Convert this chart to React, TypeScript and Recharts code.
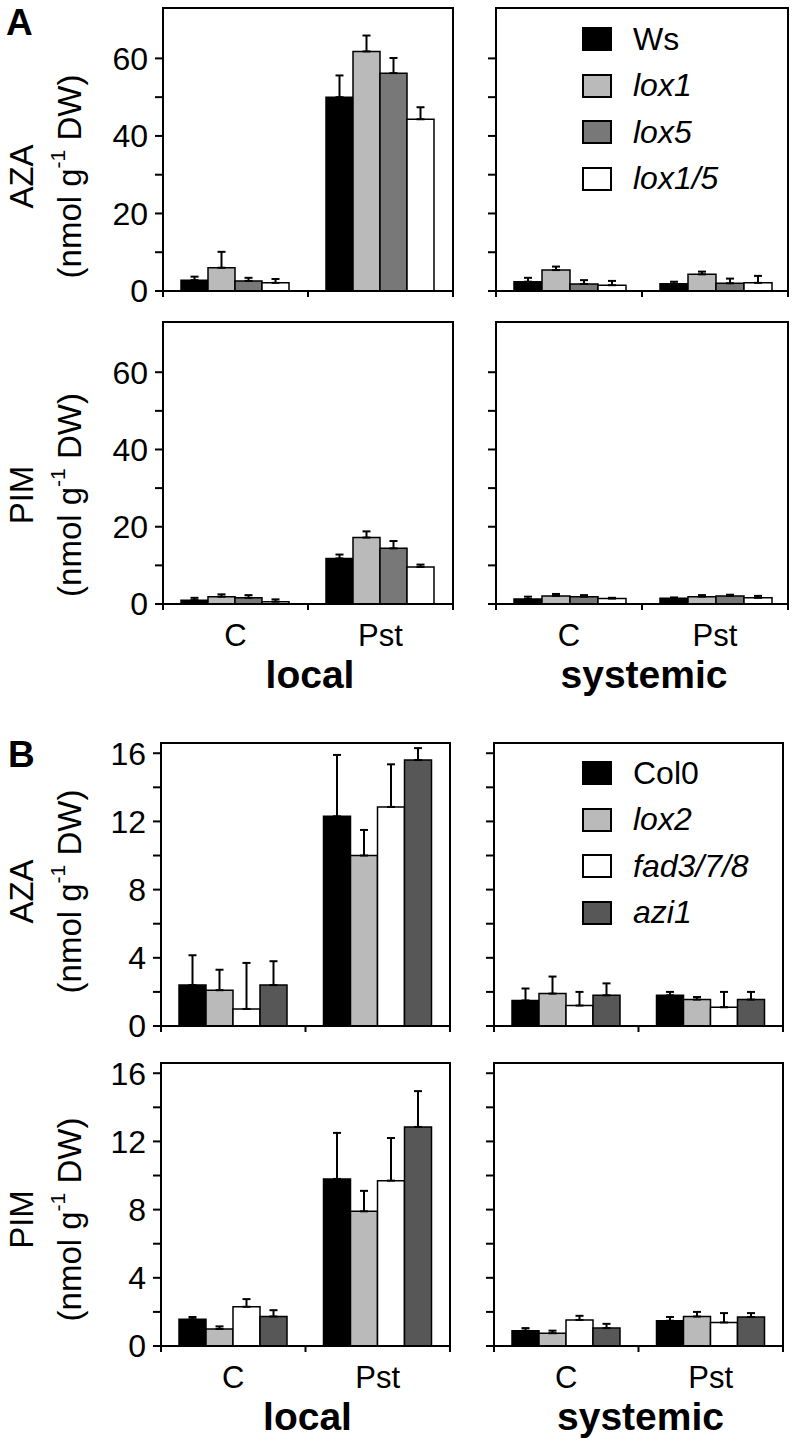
import { Bar, BarChart, ErrorBar, Legend, ReferenceArea, XAxis, YAxis } from "recharts"

const groups = ["C", "Pst"]

const linesA = ["Ws", "lox1", "lox5", "lox1/5"]
const fillsA = ["#000000", "#bababa", "#787878", "#ffffff"]
const linesB = ["Col0", "lox2", "fad3/7/8", "azi1"]
const fillsB = ["#000000", "#bababa", "#ffffff", "#575757"]
const wildTypes = ["Ws", "Col0"]

// rows: C, Pst; columns in line order
const azaLocalA = [[2.8, 6.0, 2.6, 2.1], [50.0, 61.8, 56.2, 44.3]]
const azaLocalErrA = [[0.9, 4.1, 0.8, 1.0], [5.6, 4.1, 3.9, 3.1]]
const azaSysA = [[2.4, 5.4, 1.8, 1.5], [1.9, 4.3, 2.0, 2.1]]
const azaSysErrA = [[1.0, 0.9, 1.0, 1.1], [0.5, 0.7, 1.2, 1.8]]
const pimLocalA = [[1.0, 1.9, 1.6, 0.6], [11.8, 17.2, 14.4, 9.6]]
const pimLocalErrA = [[0.6, 0.6, 0.7, 0.6], [1.0, 1.6, 1.9, 0.6]]
const pimSysA = [[1.3, 2.1, 1.9, 1.4], [1.5, 1.9, 2.1, 1.6]]
const pimSysErrA = [[0.6, 0.5, 0.4, 0.2], [0.2, 0.4, 0.3, 0.5]]

const azaLocalB = [[2.4, 2.1, 1.0, 2.4], [12.3, 10.0, 12.85, 15.6]]
const azaLocalErrB = [[1.75, 1.2, 2.7, 1.4], [3.6, 1.5, 2.5, 0.7]]
const azaSysB = [[1.5, 1.9, 1.2, 1.8], [1.8, 1.55, 1.1, 1.55]]
const azaSysErrB = [[0.7, 1.0, 0.8, 0.7], [0.2, 0.15, 0.9, 0.45]]
const pimLocalB = [[1.57, 1.0, 2.3, 1.73], [9.8, 7.9, 9.7, 12.85]]
const pimLocalErrB = [[0.13, 0.15, 0.45, 0.37], [2.7, 1.2, 2.5, 2.1]]
const pimSysB = [[0.9, 0.75, 1.53, 1.05], [1.48, 1.73, 1.38, 1.7]]
const pimSysErrB = [[0.15, 0.15, 0.24, 0.25], [0.22, 0.27, 0.55, 0.23]]

const ticksA = [0, 10, 20, 30, 40, 50, 60]
const ticksB = [0, 2, 4, 6, 8, 10, 12, 14, 16]

const FONT = '"Liberation Sans", Arial, sans-serif'
const MT = 16

function buildRows(means: number[][], errs: number[][]) {
  return groups.map((g, i) => {
    const row: Record<string, any> = { group: g }
    means[i].forEach((v, j) => {
      row[`s${j}`] = v
      row[`e${j}`] = [0, errs[i][j]]
    })
    return row
  })
}

type PanelProps = {
  left: number
  top: number
  w: number
  h: number
  lines: string[]
  fills: string[]
  means: number[][]
  errs: number[][]
  max: number
  ticks: number[]
  labelStep: number
  side: "left" | "right"
  yTitle?: string
  yShift?: number
  xTitle?: string
  legend?: { left: number; top: number }
}

function Panel(p: PanelProps) {
  const yW = p.side === "left" ? p.left : 30
  const xH = p.xTitle ? 100 : 22
  const width = yW + p.w + 4
  const height = MT + p.h + xH
  const band = p.w / groups.length
  const data = buildRows(p.means, p.errs)

  const xTick = (t: any) => {
    const last = t.index === groups.length - 1
    return (
      <g>
        <line x1={t.x - band / 2} x2={t.x - band / 2} y1={t.y} y2={t.y + 6} stroke="#000" strokeWidth={2} />
        {last && <line x1={t.x + band / 2} x2={t.x + band / 2} y1={t.y} y2={t.y + 6} stroke="#000" strokeWidth={2} />}
        {p.xTitle && (
          <text x={t.x} y={t.y + 20} dy="0.71em" textAnchor="middle" fontSize={31} fill="#000">
            {t.payload.value}
          </text>
        )}
      </g>
    )
  }

  const yTitle = () => {
    if (!p.yTitle) return null
    const cy = MT + p.h / 2 + (p.yShift ?? 0)
    return (
      <g fontSize={33} fill="#000">
        <text x={21} y={cy} transform={`rotate(-90, 21, ${cy})`} textAnchor="middle" dominantBaseline="central">
          {p.yTitle}
        </text>
        <text x={69} y={cy} transform={`rotate(-90, 69, ${cy})`} textAnchor="middle" dominantBaseline="central">
          (nmol g<tspan fontSize={21} dy={-12}>-1</tspan>
          <tspan dy={12}> DW)</tspan>
        </text>
      </g>
    )
  }

  const xTitle = () =>
    p.xTitle ? (
      <text x={yW + p.w / 2 + 2} y={MT + p.h + 84} textAnchor="middle" fontSize={39} fontWeight="bold" fill="#000">
        {p.xTitle}
      </text>
    ) : null

  const legendContent = () => (
    <div style={{ fontFamily: FONT }}>
      {p.lines.map((l, i) => (
        <div key={l} style={{ display: "flex", alignItems: "center", height: 46.5 }}>
          <div style={{ width: 26, height: 20, background: p.fills[i], border: "2px solid #000" }} />
          <span
            style={{
              marginLeft: 21,
              fontSize: 32,
              fontStyle: wildTypes.includes(l) ? "normal" : "italic",
              color: "#000",
            }}
          >
            {l}
          </span>
        </div>
      ))}
    </div>
  )

  return (
    <div style={{ position: "absolute", left: p.left - yW, top: p.top - MT, fontFamily: FONT }}>
      <BarChart
        width={width}
        height={height}
        data={data}
        margin={{ top: MT, right: 4, bottom: 0, left: 0 }}
        barCategoryGap={18}
        barGap={0}
      >
        <XAxis
          dataKey="group"
          height={xH}
          tickLine={false}
          tickSize={0}
          tickMargin={0}
          axisLine={{ stroke: "#000", strokeWidth: 2 }}
          tick={xTick}
          interval={0}
          label={xTitle}
        />
        <YAxis
          type="number"
          width={yW}
          domain={[0, p.max]}
          ticks={p.ticks}
          interval={0}
          tickSize={8}
          tickMargin={7}
          tickLine={{ stroke: "#000", strokeWidth: 2 }}
          axisLine={{ stroke: "#000", strokeWidth: 2 }}
          tick={{ fill: "#000", fontSize: 32 }}
          tickFormatter={(v: number) => (p.side === "left" && v % p.labelStep === 0 ? String(v) : "")}
          label={yTitle}
        />
        <ReferenceArea y1={0} y2={p.max} fill="none" stroke="#000" strokeWidth={2} />
        {p.lines.map((l, i) => (
          <Bar
            key={l}
            dataKey={`s${i}`}
            name={l}
            fill={p.fills[i]}
            stroke="#000"
            strokeWidth={1.5}
            isAnimationActive={false}
          >
            <ErrorBar dataKey={`e${i}`} direction="y" width={4} stroke="#000" strokeWidth={2} />
          </Bar>
        ))}
        {p.legend && (
          <Legend
            layout="vertical"
            align="center"
            verticalAlign="middle"
            content={legendContent}
            wrapperStyle={{ left: p.legend.left, top: p.legend.top, width: "auto", height: "auto" }}
          />
        )}
      </BarChart>
    </div>
  )
}

export default function App() {
  return (
    <div
      style={{
        position: "absolute",
        left: 0,
        top: 0,
        width: 797,
        height: 1444,
        background: "#fff",
        fontFamily: FONT,
      }}
    >
      <div style={{ position: "absolute", left: 6, top: 4, fontSize: 37, fontWeight: "bold", lineHeight: 1 }}>A</div>
      <div style={{ position: "absolute", left: 8, top: 736, fontSize: 37, fontWeight: "bold", lineHeight: 1 }}>B</div>

      <Panel left={163} top={8} w={290} h={283} lines={linesA} fills={fillsA} means={azaLocalA} errs={azaLocalErrA}
        max={73} ticks={ticksA} labelStep={20} side="left" yTitle="AZA" yShift={27} />
      <Panel left={496} top={8} w={292} h={283} lines={linesA} fills={fillsA} means={azaSysA} errs={azaSysErrA}
        max={73} ticks={ticksA} labelStep={20} side="right" legend={{ left: 116, top: 24 }} />
      <Panel left={163} top={322} w={290} h={282} lines={linesA} fills={fillsA} means={pimLocalA} errs={pimLocalErrA}
        max={73} ticks={ticksA} labelStep={20} side="left" yTitle="PIM" yShift={32} xTitle="local" />
      <Panel left={496} top={322} w={292} h={282} lines={linesA} fills={fillsA} means={pimSysA} errs={pimSysErrA}
        max={73} ticks={ticksA} labelStep={20} side="right" xTitle="systemic" />

      <Panel left={161} top={743} w={289} h={283} lines={linesB} fills={fillsB} means={azaLocalB} errs={azaLocalErrB}
        max={16.6} ticks={ticksB} labelStep={4} side="left" yTitle="AZA" yShift={7} />
      <Panel left={494} top={743} w={289} h={283} lines={linesB} fills={fillsB} means={azaSysB} errs={azaSysErrB}
        max={16.6} ticks={ticksB} labelStep={4} side="right" legend={{ left: 118, top: 23 }} />
      <Panel left={161} top={1063} w={289} h={283} lines={linesB} fills={fillsB} means={pimLocalB} errs={pimLocalErrB}
        max={16.6} ticks={ticksB} labelStep={4} side="left" yTitle="PIM" yShift={15} xTitle="local" />
      <Panel left={494} top={1063} w={289} h={283} lines={linesB} fills={fillsB} means={pimSysB} errs={pimSysErrB}
        max={16.6} ticks={ticksB} labelStep={4} side="right" xTitle="systemic" />
    </div>
  )
}
